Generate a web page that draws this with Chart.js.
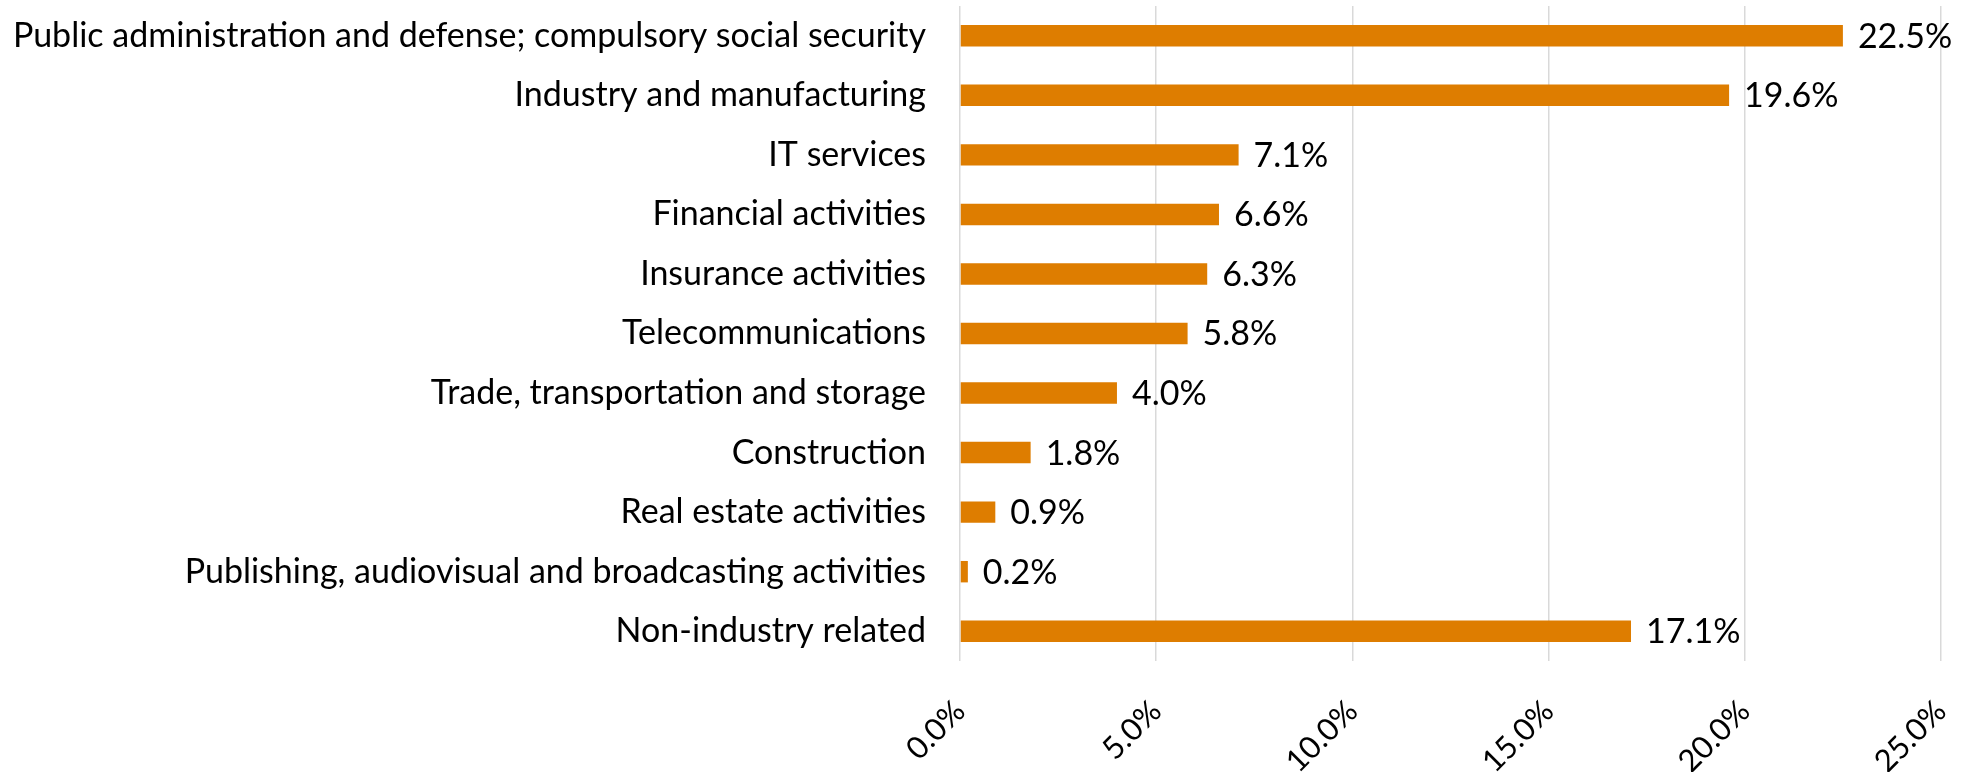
<!DOCTYPE html>
<html>
<head>
<meta charset="utf-8">
<script src="https://cdn.jsdelivr.net/npm/chart.js@4"></script>
<style>
    html, body { margin: 0; padding: 0; background: #ffffff; }
    #wrap { width: 1972px; height: 772px; position: relative; }
</style>
</head>
<body>
<div id="wrap"><canvas id="sectorChart"></canvas></div>
<script>
// --- Chart data ---
const sectors = [
    'Public administration and defense; compulsory social security',
    'Industry and manufacturing',
    'IT services',
    'Financial activities',
    'Insurance activities',
    'Telecommunications',
    'Trade, transportation and storage',
    'Construction',
    'Real estate activities',
    'Publishing, audiovisual and broadcasting activities',
    'Non-industry related'
];
const shares = [22.5, 19.6, 7.1, 6.6, 6.3, 5.8, 4.0, 1.8, 0.9, 0.2, 17.1];
const axisTicks = [0, 5, 10, 15, 20, 25];

const fontFamily = 'Lato, "Open Sans", sans-serif';
const fontSize = 34;
const barColor = '#DE7D00';

// draws the value next to each bar end
const valueLabels = {
    id: 'valueLabels',
    afterDatasetsDraw(chart) {
        const ctx = chart.ctx;
        const meta = chart.getDatasetMeta(0);
        ctx.save();
        ctx.font = `${fontSize}px ${fontFamily}`;
        ctx.fillStyle = '#000000';
        ctx.textAlign = 'left';
        ctx.textBaseline = 'middle';
        meta.data.forEach((bar, i) => {
            ctx.fillText(shares[i].toFixed(1) + '%', bar.x + 15, bar.y + 1);
        });
        ctx.restore();
    }
};

// keep the plot area fixed: drop the extra padding scales ask for
function noScalePadding(scale) {
    scale.paddingTop = 0;
    scale.paddingBottom = 0;
    scale.paddingLeft = 0;
    scale.paddingRight = 0;
}

new Chart(document.getElementById('sectorChart'), {
    type: 'bar',
    data: {
        labels: sectors,
        datasets: [{
            data: shares,
            backgroundColor: barColor,
            borderWidth: 0,
            barPercentage: 0.36,
            categoryPercentage: 1
        }]
    },
    options: {
        indexAxis: 'y',
        responsive: true,
        maintainAspectRatio: false,
        animation: false,
        layout: { padding: { top: 6, right: 31, left: 0, bottom: 0 } },
        plugins: {
            legend: { display: false },
            tooltip: { enabled: false }
        },
        scales: {
            x: {
                min: axisTicks[0],
                max: axisTicks[axisTicks.length - 1],
                afterBuildTicks: (scale) => {
                    scale.ticks = axisTicks.map(v => ({ value: v }));
                },
                afterFit: (scale) => {
                    scale.height = 111;
                    noScalePadding(scale);
                },
                grid: { color: '#D9D9D9', lineWidth: 1.5, drawTicks: false },
                border: { display: false },
                ticks: {
                    color: '#000000',
                    font: { family: fontFamily, size: 31 },
                    padding: 32,
                    minRotation: 45,
                    maxRotation: 45,
                    callback: (v) => Number(v).toFixed(1) + '%'
                }
            },
            y: {
                afterFit: (scale) => {
                    scale.width = 960;
                    noScalePadding(scale);
                },
                grid: { display: false },
                border: { display: false },
                ticks: {
                    color: '#000000',
                    font: { family: fontFamily, size: fontSize },
                    padding: 26
                }
            }
        }
    },
    plugins: [valueLabels]
});
</script>
</body>
</html>
